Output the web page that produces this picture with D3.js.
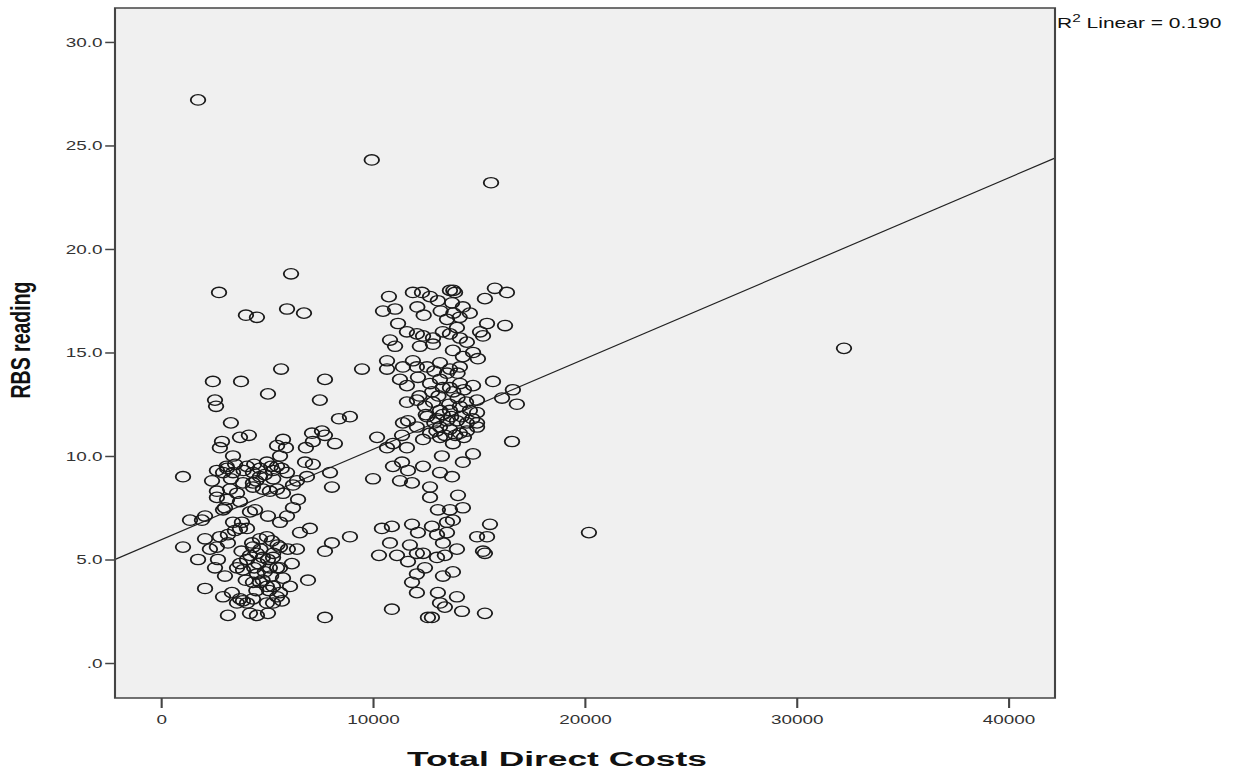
<!DOCTYPE html>
<html>
<head>
<meta charset="utf-8">
<script src="https://cdn.jsdelivr.net/npm/d3@7"></script>
<style>
  body { margin: 0; background: #fff; }
  svg { display: block; }
  text { font-family: "Liberation Sans", Arial, sans-serif; }
</style>
</head>
<body>
<div id="chart"></div>
<script>
// Total Direct Costs vs RBS reading, [cost, rbs]
const outlierPoints = [[1750, 27.2], [9950, 24.3], [15580, 23.2], [32240, 15.2], [20200, 6.3]];

const lowCostGroup = [
  [2740,17.9],[6140,18.8],[4010,16.8],[4530,16.7],[5950,17.1],[6750,16.9],[5670,14.2],[2450,13.6],[3780,13.6],
  [5050,13.0],[7740,13.7],[7500,12.7],[2550,12.7],[2600,12.4],[3300,11.6],[8400,11.8],[8920,11.9],
  [2880,10.7],[3730,10.9],[4150,11.0],[5760,10.8],[5480,10.5],[5900,10.4],[7130,11.1],[7600,11.2],[7740,11.0],
  [7170,10.7],[8210,10.6],[6840,10.4],[2780,10.4],[3400,10.0],[5620,10.0],[6800,9.7],[7170,9.6],[1040,9.0],
  [2410,8.8],[2640,9.3],[3120,9.4],[2930,9.2],[3400,9.2],[4060,9.5],[4340,9.2],[4670,9.4],[5000,9.7],[5290,9.3],
  [5480,9.5],[4670,9.0],[3870,8.7],[4340,8.7],[5950,9.2],[6420,8.8],[6890,9.0],[7980,9.2],[8070,8.5],
  [2640,8.3],[3260,8.4],[3590,8.2],[2640,8.0],[3120,7.9],[3730,7.8],[4340,8.5],[4810,8.4],[5140,8.3],[5480,8.4],
  [5760,8.2],[6230,8.6],[6470,7.9],[6230,7.5],[5950,7.1],[5620,6.8],[5050,7.1],[4440,7.4],[4200,7.3],[3020,7.5],
  [2930,7.4],[3400,6.8],[3820,6.8],[4060,6.5],[1370,6.9],[1935,6.9],[2080,7.1],
  [1040,5.6],[1750,5.0],[2080,6.0],[2310,5.5],[2640,5.6],[2780,6.1],[3160,6.2],[3160,5.8],[2690,5.0],[2550,4.6],
  [3020,4.2],[2080,3.6],[2930,3.2],[3350,3.4],[3730,3.1],[3590,2.9],[3870,3.0],[3160,2.3],[4200,2.4],[4530,2.3],
  [5050,2.4],[5620,3.4],[5480,3.2],[5290,2.9],[5000,2.9],[4340,3.1],
  [3590,4.6],[3730,4.8],[3870,4.5],[4060,5.0],[4340,5.6],[4670,6.0],[5000,6.1],[5240,5.9],[4530,5.3],[4810,5.1],
  [5050,5.0],[5290,5.1],[5620,5.6],[5990,5.5],[6420,5.5],[6180,4.8],[5620,4.6],[5140,4.6],[4530,4.3],[4340,3.9],
  [4670,3.9],[5000,3.7],[5290,3.7],[5760,4.1],[6090,3.7],[6940,4.0],[6560,6.3],[7030,6.5],[7740,5.4],[8070,5.8],
  [3490,6.4],[3730,6.5],[4060,2.9],[5710,3.0],[7740,2.2],[5480,4.6],[8920,6.1],
  [3100,9.5],[3500,9.6],[3900,9.3],[4400,9.6],[4900,9.1],[5200,9.5],[5700,9.4],[3300,8.9],[4500,8.8],[5300,8.9],
  [4200,5.2],[4600,4.8],[4900,4.4],[5200,4.2],[4400,4.6],[4700,5.5],[5300,5.3],[4000,4.0],[4800,4.0],[5100,3.5],
  [4500,3.5],[4300,5.8],[5500,5.7],[3800,5.4]
];

const highCostGroup = [
  [9490,14.2],[10200,10.9],[10760,17.7],[10480,17.0],[11050,17.1],[11890,17.9],[12320,17.9],[12700,17.7],
  [13070,17.5],[13640,18.0],[13880,17.9],[13740,17.4],[14250,17.2],[14580,16.9],[15290,17.6],[15760,18.1],
  [16330,17.9],[15390,16.4],[16240,16.3],[15060,16.0],[15200,15.8],[11190,16.4],[11610,16.0],[10810,15.6],
  [11050,15.3],[12080,15.9],[12370,15.8],[12840,15.7],[13640,15.9],[13970,16.2],[14110,15.7],[12220,15.3],
  [12840,15.4],[13780,15.1],[14440,15.5],[14730,15.0],[14960,14.7],[10670,14.6],[10670,14.2],[11420,14.3],
  [11890,14.6],[12080,14.3],[12560,14.3],[13170,14.5],[13640,14.2],[14110,14.3],[14250,14.8],[11280,13.7],
  [11610,13.4],[12130,13.8],[12700,13.5],[13170,13.7],[13640,13.3],[14110,13.5],[14730,13.4],[15670,13.6],
  [11610,12.6],[12080,12.7],[12460,12.4],[12840,12.6],[13170,12.2],[13640,12.2],[14110,12.4],[14580,12.2],
  [14920,12.1],[14920,12.7],[16100,12.8],[16610,13.2],[16800,12.5],[12560,11.9],[13030,11.8],[13500,11.7],
  [13970,11.7],[14440,11.6],[14920,11.6],[11420,11.6],[11660,11.7],[12080,11.4],[13170,11.4],[13640,11.3],
  [14110,11.1],[14440,11.2],[14920,11.4],[12370,10.8],[13170,10.9],[13780,10.6],[11380,11.0],[16570,10.7],
  [10950,10.6],[10010,8.9],[10670,10.4],[11610,10.4],[13260,10.0],[14730,10.1],[14250,9.7],[10950,9.5],
  [11380,9.7],[11660,9.3],[12370,9.5],[13170,9.2],[13740,9.0],[11280,8.8],[11850,8.7],[12700,8.5],[12700,8.0],
  [14020,8.1],[13070,7.4],[13640,7.4],[14250,7.5],[10430,6.5],[10900,6.6],[11850,6.7],[12130,6.3],[12790,6.6],
  [13030,6.2],[13500,6.3],[13500,6.8],[13780,6.9],[13310,5.8],[15530,6.7],[14920,6.1],[15390,6.1],[15200,5.4],
  [15290,5.3],[10810,5.8],[11750,5.7],[10290,5.2],[11140,5.2],[11660,4.9],[12080,5.3],[12370,5.3],[13030,5.1],
  [13400,5.2],[13970,5.5],[12460,4.6],[12080,4.3],[11850,3.9],[12080,3.4],[13070,3.4],[13310,4.2],[13780,4.4],
  [13970,3.2],[13170,2.9],[13400,2.7],[14210,2.5],[15290,2.4],[10900,2.6],[12600,2.2],[12790,2.2],
  [12500,12.0],[12900,11.6],[13300,12.0],[13700,11.9],[14200,11.9],[14700,11.8],[13000,11.2],[13400,11.0],
  [13900,11.0],[14300,10.9],[12700,11.1],[13600,12.5],[14000,12.8],[14400,12.6],[13100,12.9],[12800,13.1],
  [13300,13.3],[13800,13.1],[14300,13.2],[12200,12.9],[13500,14.0],[14000,14.0],[12900,14.1],[13300,16.0],
  [13500,16.6],[14100,16.7],[12400,16.8],[12100,17.2],[13200,17.0],[13800,16.9],[13800,18.0]
];

const xTicks = [0, 10000, 20000, 30000, 40000];
const yTicks = [0, 5, 10, 15, 20, 25, 30];
const xDomain = [-2170, 42200];
const yDomain = [-1.69, 31.64];
const fitIntercept = 5.95, fitSlope = 0.000437;
const rSquared = "0.190";

// the original picture is stretched sideways, so draw narrow and let the viewBox stretch it
const SX = 1.4;
const W = 1234, H = 769;
const plot = { left: 115, right: 1055, top: 8, bottom: 698 };

const svg = d3.select("#chart").append("svg")
  .attr("width", W).attr("height", H)
  .attr("viewBox", `0 0 ${W / SX} ${H}`)
  .attr("preserveAspectRatio", "none");

const x = d3.scaleLinear().domain(xDomain).range([plot.left / SX, plot.right / SX]);
const y = d3.scaleLinear().domain(yDomain).range([plot.bottom, plot.top]);

svg.append("rect")
  .attr("x", x.range()[0]).attr("y", plot.top)
  .attr("width", x.range()[1] - x.range()[0]).attr("height", plot.bottom - plot.top)
  .attr("fill", "#f0f0f0");

svg.append("clipPath").attr("id", "clip")
  .append("rect")
  .attr("x", x.range()[0]).attr("y", plot.top)
  .attr("width", x.range()[1] - x.range()[0]).attr("height", plot.bottom - plot.top);

// fit line
svg.append("line")
  .attr("clip-path", "url(#clip)")
  .attr("x1", x(xDomain[0])).attr("y1", y(fitIntercept + fitSlope * xDomain[0]))
  .attr("x2", x(xDomain[1])).attr("y2", y(fitIntercept + fitSlope * xDomain[1]))
  .attr("stroke", "#222").attr("stroke-width", 1.1);

const allPoints = outlierPoints.concat(lowCostGroup, highCostGroup);

svg.append("g").attr("clip-path", "url(#clip)")
  .selectAll("circle")
  .data(allPoints)
  .enter().append("circle")
  .attr("cx", d => x(d[0]))
  .attr("cy", d => y(d[1]))
  .attr("r", 5.2)
  .attr("fill", "none")
  .attr("stroke", "#1a1a1a")
  .attr("stroke-width", 1.3);

svg.append("rect")
  .attr("x", x.range()[0]).attr("y", plot.top)
  .attr("width", x.range()[1] - x.range()[0]).attr("height", plot.bottom - plot.top)
  .attr("fill", "none").attr("stroke", "#444").attr("stroke-width", 1.5);

const xAxis = svg.append("g")
  .attr("transform", `translate(0,${plot.bottom})`)
  .call(d3.axisBottom(x).tickValues(xTicks).tickSize(10).tickPadding(6).tickFormat(d3.format("d")));

const yAxis = svg.append("g")
  .attr("transform", `translate(${x.range()[0]},0)`)
  .call(d3.axisLeft(y).tickValues(yTicks).tickSize(7).tickPadding(2)
    .tickFormat(d => d === 0 ? ".0" : d.toFixed(1)));

[xAxis, yAxis].forEach(g => {
  g.select(".domain").remove();
  g.selectAll(".tick line").attr("stroke", "#444").attr("stroke-width", 1.5);
  g.selectAll(".tick text")
    .attr("fill", "#333")
    .style("font-size", "13.5px")
    .style("font-family", '"Liberation Sans", Arial, sans-serif');
});

svg.append("text")
  .attr("x", 557 / SX).attr("y", 766)
  .attr("text-anchor", "middle")
  .attr("textLength", 300 / SX).attr("lengthAdjust", "spacingAndGlyphs")
  .style("font-size", "20px").style("font-weight", "bold")
  .attr("fill", "#111")
  .text("Total Direct Costs");

svg.append("text")
  .attr("transform", `translate(${30 / SX},340) rotate(-90)`)
  .attr("text-anchor", "middle")
  .style("font-size", "19.5px").style("font-weight", "bold")
  .attr("fill", "#111")
  .text("RBS reading");

const r2 = svg.append("text")
  .attr("x", 1057 / SX).attr("y", 28)
  .style("font-size", "15px")
  .attr("fill", "#111");
r2.append("tspan").text("R");
r2.append("tspan").attr("dy", -6).style("font-size", "11px").text("2");
r2.append("tspan").attr("dy", 6).text(" Linear = " + rSquared);
</script>
</body>
</html>
